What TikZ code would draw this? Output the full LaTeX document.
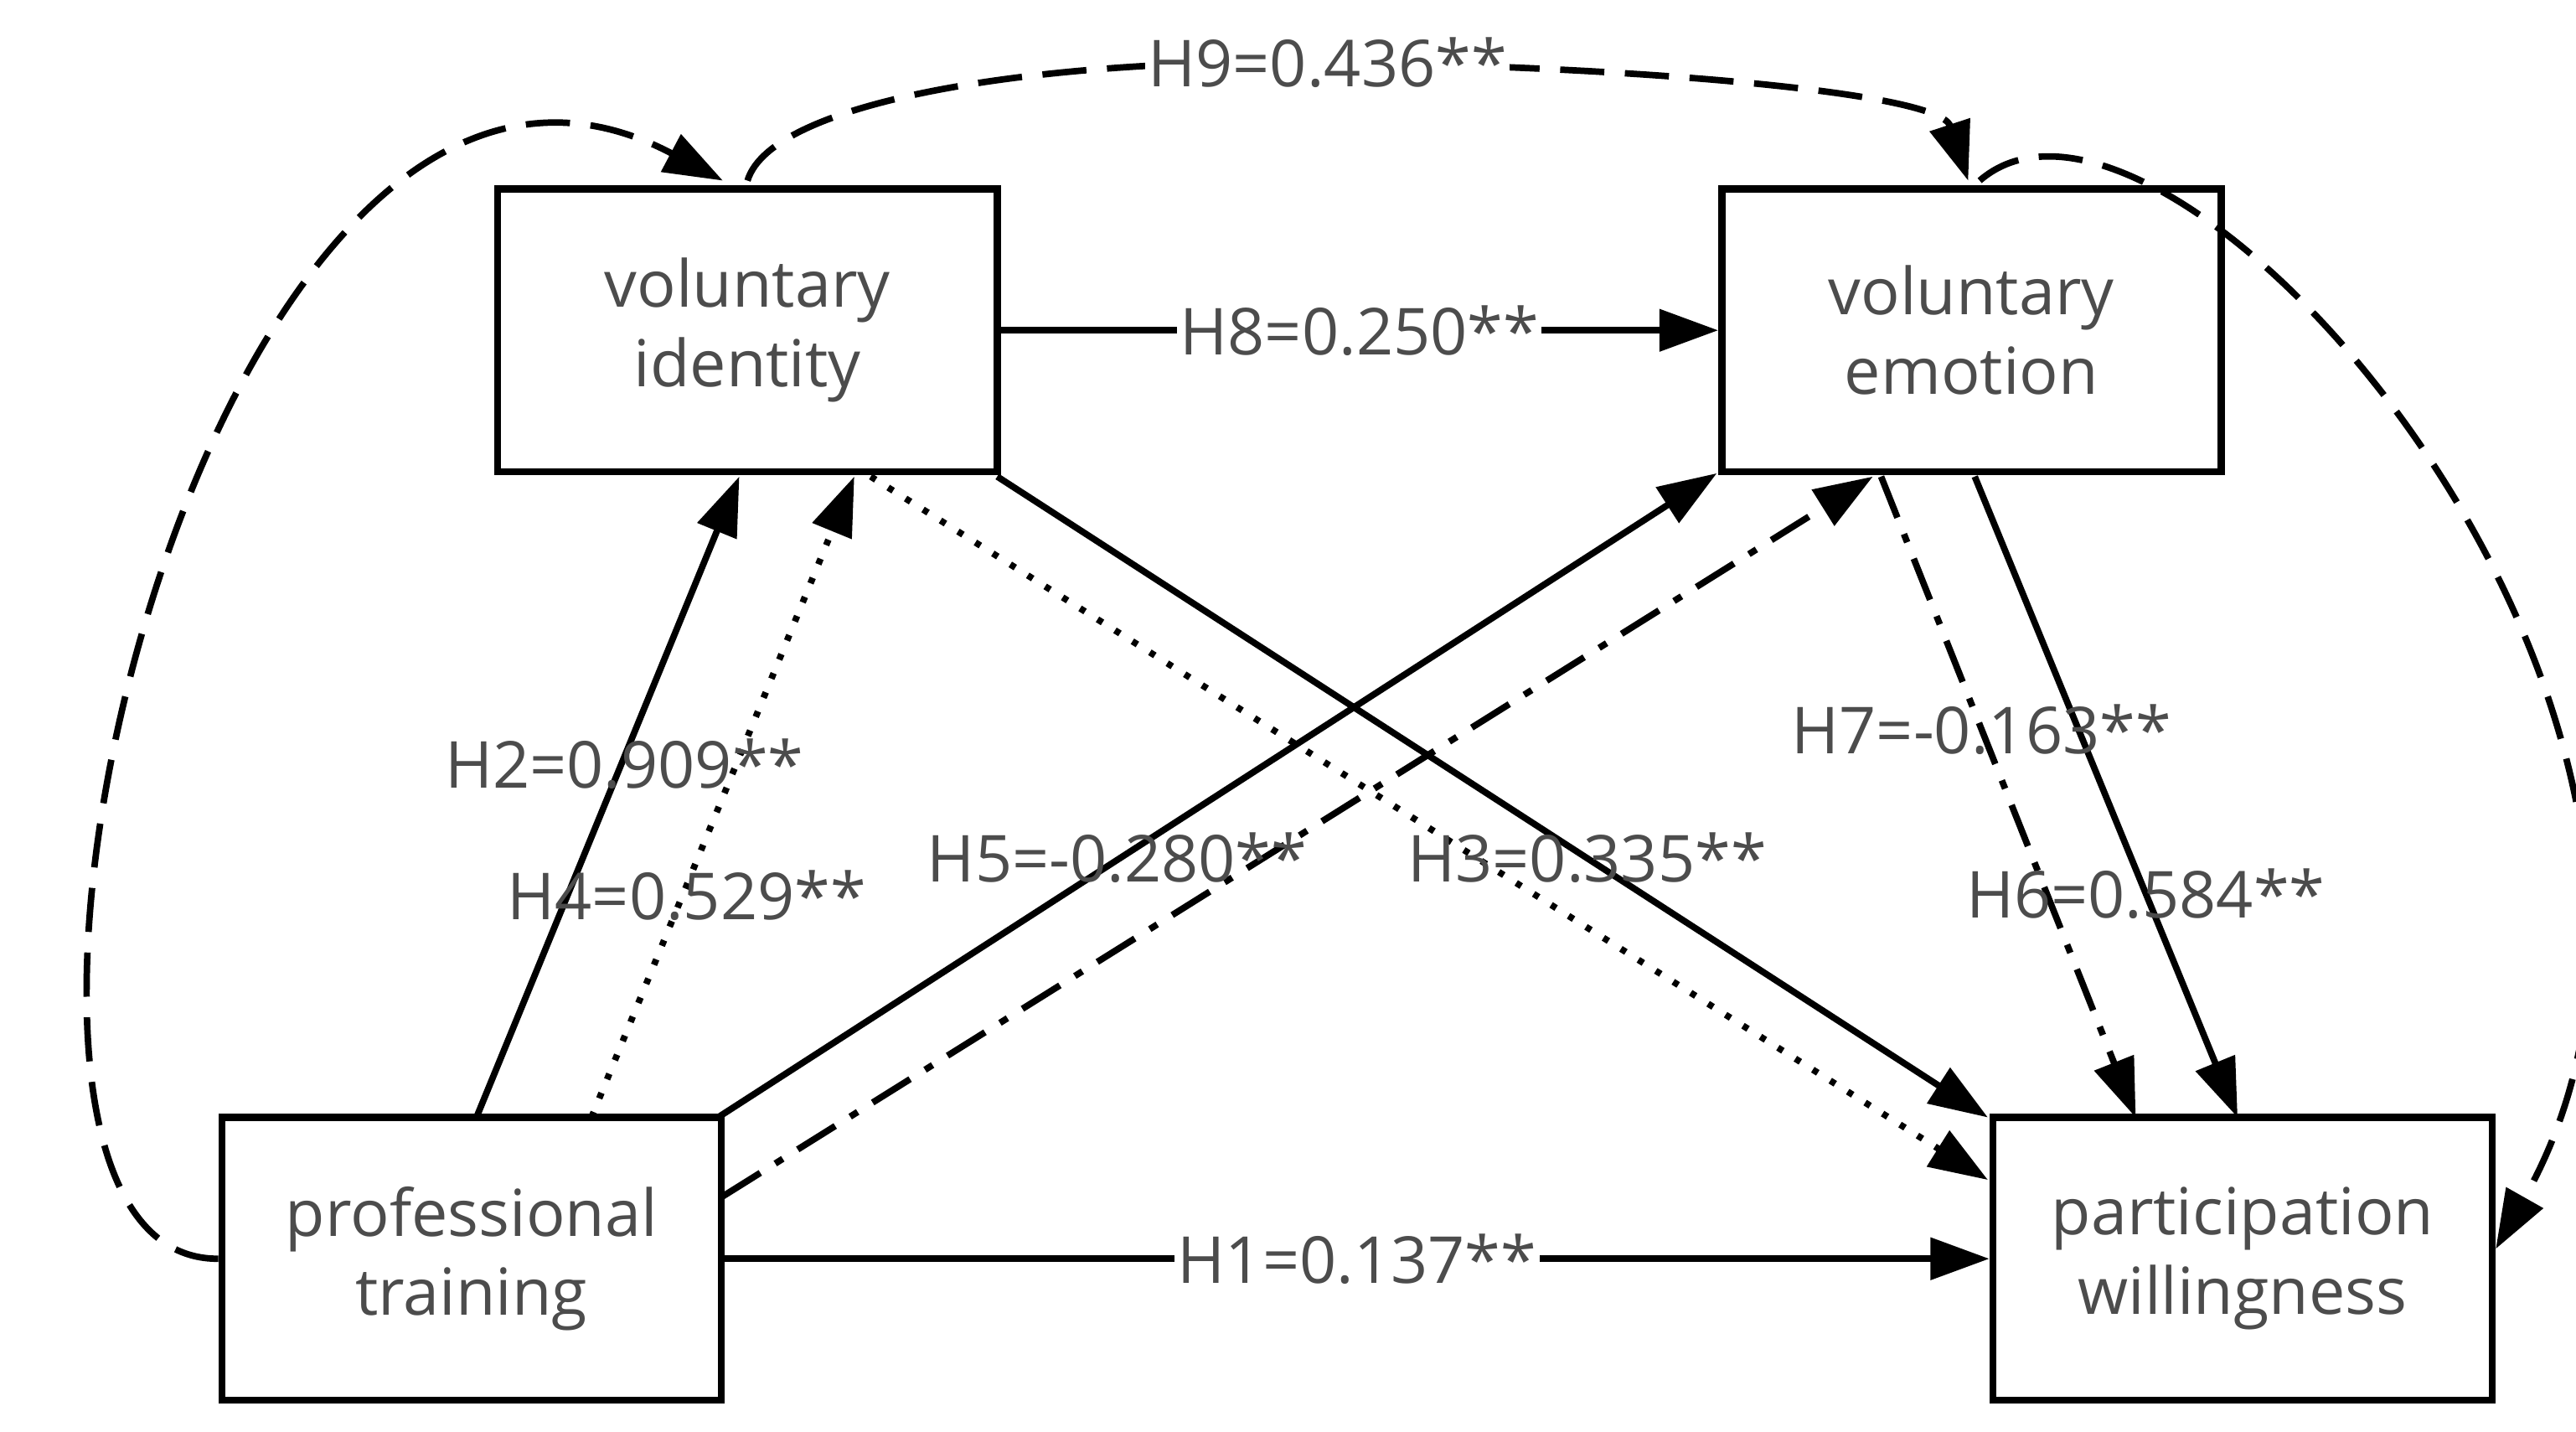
\documentclass[tikz,border=0pt]{standalone}
\usepackage{fontspec}
\setmainfont{Open Sans}
\usetikzlibrary{arrows.meta,positioning,calc}
\tikzset{
  box/.style={draw,line width=2.4pt,minimum width=5.96cm,minimum height=3.37cm,align=center,
    font=\fontsize{22}{27}\selectfont,text=black!70},
  lbl/.style={fill=white,inner sep=1pt,font=\fontsize{22}{25}\selectfont,text=black!70},
  arr/.style={line width=2.2pt,-{Triangle[length=20pt,width=14pt]}},
  dsh/.style={arr,dash pattern=on 15pt off 7pt},
  dt/.style={arr,dash pattern=on 2pt off 5pt},
  dd/.style={arr,dash pattern=on 15pt off 6pt on 3pt off 6pt}
}
\begin{document}
\begin{tikzpicture}[x=0.01961cm,y=-0.01961cm]
\useasboundingbox (0,0) rectangle (1568,871);
% boxes
\node[box] (vi) at (455,201) {voluntary\\identity};
\node[box] (ve) at (1200,201) {voluntary\\emotion};
\node[box] (pt) at (287,766) {professional\\training};
\node[box] (pw) at (1365,766) {participation\\willingness};
% end points on the boxes
\coordinate (viA) at (450,290); \coordinate (viB) at (520,290);
\coordinate (viC) at (607,290); \coordinate (viD) at (530,290);
\coordinate (veA) at (1045,288); \coordinate (veB) at (1140,290);
\coordinate (veC) at (1145,290); \coordinate (veD) at (1202,290);
\coordinate (ptA) at (290,680); \coordinate (ptB) at (360,680);
\coordinate (ptC) at (437,680); \coordinate (ptD) at (440,728);
\coordinate (pwA) at (1210,680); \coordinate (pwB) at (1210,718);
\coordinate (pwC) at (1300,680); \coordinate (pwD) at (1362,680);
% straight paths
\draw[arr] (pt.east) -- (pw.west) node[lbl,midway] {H1=0.137**};
\draw[arr] (vi.east) -- (ve.west) node[lbl,midway] {H8=0.250**};
\draw[arr] (ptA) -- (viA);
\draw[dt] (ptB) -- (viB);
\draw[arr] (ptC) -- (veA);
\draw[dd] (ptD) -- (veB);
\draw[arr] (viC) -- (pwA);
\draw[dt] (viD) -- (pwB);
\draw[dd] (veC) -- (pwC);
\draw[arr] (veD) -- (pwD);
\node[lbl,fill=none] (h2) at (380,465) {H2=0.909**};
\node[lbl,fill=none] (h4) at (418,545) {H4=0.529**};
\node[lbl,fill=none] (h5) at (680,522) {H5=-0.280**};
\node[lbl,fill=none] (h3) at (966,522) {H3=0.335**};
\node[lbl,fill=none] (h7) at (1206,444) {H7=-0.163**};
\node[lbl,fill=none] (h6) at (1306,544) {H6=0.584**};
% curved paths
\draw[dsh] ($(vi.north)+(0,-3)$) .. controls (470,60) and (640,35) .. (808,38)
  node[lbl] {H9=0.436**} .. controls (980,40) and (1180,55) .. ($(ve.north)+(-2,-3)$);
\draw[dsh] (pt.west) .. controls (-60,767) and (120,-60) .. ($(vi.north)+(-15,-3)$);
\draw[dsh] ($(ve.north)+(5,-3)$) .. controls (1320,10) and (1700,440) .. ($(pw.east)+(0,-6)$);
\end{tikzpicture}
\end{document}
